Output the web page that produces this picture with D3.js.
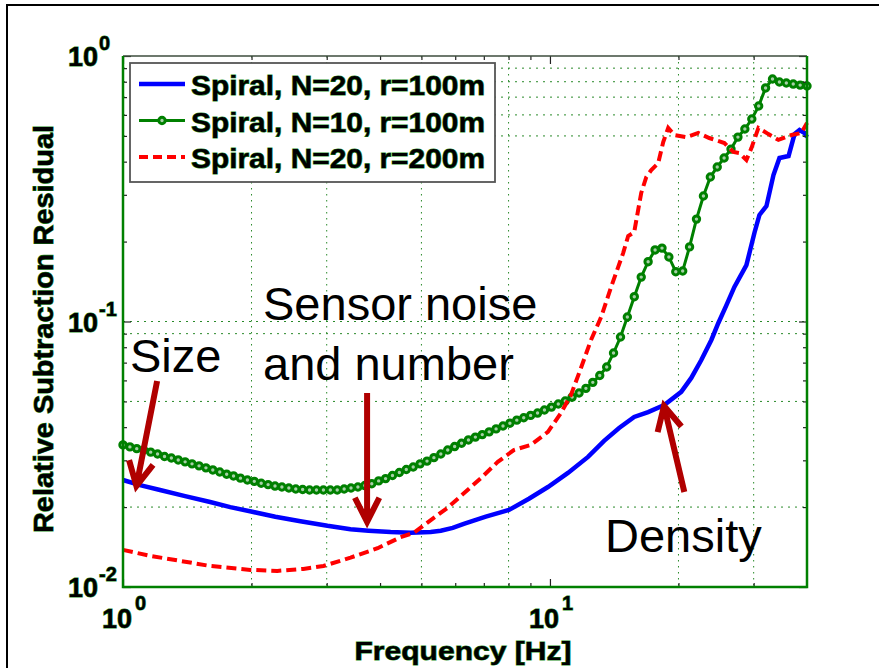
<!DOCTYPE html>
<html>
<head>
<meta charset="utf-8">
<script src="https://cdn.jsdelivr.net/npm/d3@7"></script>
<style>
  body { margin: 0; background: #fff; }
  svg { display: block; font-family: "Liberation Sans", Arial, sans-serif; }
  .fringe { paint-order: stroke; stroke: #1f8f1f; stroke-width: 1px; fill: #000; font-weight: bold; }
</style>
</head>
<body>
<svg width="879" height="668"></svg>
<script>
// Spiral, N=20, r=100m
var blueFreq = [1.000, 1.096, 1.221, 1.398, 1.600, 1.783, 2.008, 2.274, 2.603, 3.012, 3.411, 3.759,
  4.235, 4.718, 5.256, 5.549, 5.920, 6.283, 7.076, 8.014, 8.928, 9.892, 11.02, 12.28, 13.39, 14.52,
  15.75, 16.98, 18.52, 20.30, 21.43, 22.62, 23.88, 24.80, 25.89, 27.04, 28.85, 30.13, 30.95, 32.14,
  33.38, 34.48, 36.21, 37.40, 38.42, 39.47, 40.00];
var blueVal = [0.0253, 0.0242, 0.0232, 0.0220, 0.0209, 0.0200, 0.0192, 0.0184, 0.0177, 0.0170, 0.0165, 0.0163,
  0.0161, 0.0160, 0.0161, 0.0163, 0.0167, 0.0173, 0.0184, 0.0195, 0.0215, 0.0238, 0.0269, 0.0309, 0.0355, 0.0397,
  0.0437, 0.0456, 0.0485, 0.0543, 0.0613, 0.0716, 0.0852, 0.0987, 0.115, 0.135, 0.163, 0.216, 0.252, 0.272,
  0.356, 0.413, 0.420, 0.508, 0.526, 0.513, 0.495];

// Spiral, N=10, r=100m (one marker per sample)
var greenFreq = [1.000, 1.038, 1.077, 1.118, 1.161, 1.205, 1.251, 1.298, 1.347, 1.398,
  1.451, 1.507, 1.564, 1.623, 1.685, 1.749, 1.815, 1.884, 1.956, 2.030,
  2.107, 2.187, 2.270, 2.356, 2.446, 2.539, 2.635, 2.735, 2.839, 2.947,
  3.059, 3.175, 3.296, 3.420, 3.550, 3.685, 3.825, 3.970, 4.121, 4.277,
  4.439, 4.608, 4.783, 4.964, 5.153, 5.348, 5.551, 5.762, 5.981, 6.208,
  6.443, 6.688, 6.942, 7.205, 7.479, 7.763, 8.057, 8.363, 8.681, 9.010,
  9.353, 9.708, 10.08, 10.46, 10.86, 11.27, 11.70, 12.14, 12.60, 13.08,
  13.58, 14.09, 14.63, 15.18, 15.76, 16.36, 16.98, 17.63, 18.30, 18.99,
  19.71, 20.46, 21.23, 22.04, 22.88, 23.75, 24.65, 25.58, 26.55, 27.56,
  28.61, 29.70, 30.82, 31.99, 33.21, 34.47, 35.78, 37.14, 38.55, 40.00];
var greenVal = [0.0343, 0.0337, 0.0332, 0.0328, 0.0322, 0.0317, 0.0310, 0.0306, 0.0301, 0.0296,
  0.0291, 0.0286, 0.0281, 0.0276, 0.0271, 0.0266, 0.0262, 0.0257, 0.0253, 0.0250,
  0.0246, 0.0243, 0.0240, 0.0238, 0.0236, 0.0234, 0.0233, 0.0232, 0.0232, 0.0232,
  0.0232, 0.0232, 0.0234, 0.0236, 0.0238, 0.0241, 0.0245, 0.0251, 0.0256, 0.0263,
  0.0270, 0.0277, 0.0283, 0.0291, 0.0298, 0.0307, 0.0317, 0.0328, 0.0338, 0.0348,
  0.0358, 0.0367, 0.0375, 0.0384, 0.0394, 0.0404, 0.0414, 0.0425, 0.0434, 0.0443,
  0.0452, 0.0464, 0.0476, 0.0489, 0.0502, 0.0519, 0.0538, 0.0560, 0.0590, 0.0626,
  0.0674, 0.0761, 0.0874, 0.104, 0.124, 0.147, 0.168, 0.186, 0.189, 0.175,
  0.154, 0.155, 0.191, 0.243, 0.297, 0.350, 0.382, 0.413, 0.446, 0.495,
  0.531, 0.579, 0.648, 0.758, 0.819, 0.798, 0.791, 0.784, 0.777, 0.771];

// Spiral, N=20, r=200m
var redFreq = [1.000, 1.157, 1.339, 1.600, 1.987, 2.298, 2.646, 2.948, 3.411, 3.948, 4.469, 4.795,
  5.762, 6.887, 7.548, 8.231, 9.024, 9.892, 10.61, 11.20, 11.82, 12.48, 13.18, 13.91, 14.44, 14.84,
  15.25, 15.75, 16.36, 16.81, 17.27, 17.93, 18.42, 18.92, 19.55, 20.86, 22.26, 23.61, 25.62, 26.89,
  27.78, 28.85, 29.64, 30.78, 32.49, 34.29, 36.79, 38.82, 40.00];
var redVal = [0.0138, 0.0131, 0.0126, 0.0120, 0.0116, 0.0115, 0.0117, 0.0120, 0.0129, 0.0140, 0.0154, 0.0160,
  0.0199, 0.0257, 0.0296, 0.0328, 0.0343, 0.0384, 0.0452, 0.0529, 0.0668, 0.0852, 0.104, 0.135, 0.160, 0.181,
  0.210, 0.217, 0.305, 0.350, 0.372, 0.395, 0.474, 0.536, 0.504, 0.495, 0.513, 0.491, 0.470, 0.435,
  0.431, 0.406, 0.450, 0.536, 0.508, 0.483, 0.504, 0.513, 0.560];

var seriesNames = ["Spiral, N=20, r=100m", "Spiral, N=10, r=100m", "Spiral, N=20, r=200m"];

// ticks and grid
var xMajor = [1, 10], xMinor = [2, 3, 4, 5, 6, 7, 8, 9, 20, 30];
var yMajor = [0.01, 0.1, 1], yMinor = [0.02, 0.03, 0.04, 0.05, 0.06, 0.07, 0.08, 0.09, 0.2, 0.3, 0.4, 0.5, 0.6, 0.7, 0.8, 0.9];
var xGrid = [2, 3, 5, 8, 20, 30];
var yGrid = [0.02, 0.05, 0.09, 0.1, 0.5, 0.6, 0.7, 0.8, 0.9];

var svg = d3.select("svg"),
	plotL = 123, plotR = 807, plotT = 56, plotB = 587;

var x = d3.scaleLog().domain([1, 40]).range([plotL, plotR]),
	y = d3.scaleLog().domain([0.01, 1]).range([plotB, plotT]);

// figure frame
svg.append("path")
   .attr("d", "M7,668V5H879")
   .attr("fill", "none")
   .attr("stroke", "#000")
   .attr("stroke-width", 2);

// dotted grid
var grid = svg.append("g").attr("stroke", "#2a8a2a").attr("stroke-width", 1);
grid.selectAll(".gx").data(xGrid).enter().append("line")
	.attr("x1", function(d) { return x(d); }).attr("x2", function(d) { return x(d); })
	.attr("y1", plotT).attr("y2", plotB)
	.attr("stroke-dasharray", "1.5,4.5");
grid.selectAll(".gy").data(yGrid).enter().append("line")
	.attr("x1", plotL).attr("x2", plotR)
	.attr("y1", function(d) { return y(d); }).attr("y2", function(d) { return y(d); })
	.attr("stroke-dasharray", "2,5");

// curves
var line = d3.line()
	.x(function(d) { return x(d[0]); })
	.y(function(d) { return y(d[1]); });

var blue = d3.zip(blueFreq, blueVal),
	green = d3.zip(greenFreq, greenVal),
	red = d3.zip(redFreq, redVal);

svg.append("path").datum(blue)
   .attr("d", line).attr("fill", "none")
   .attr("stroke", "#0000ff").attr("stroke-width", 4.5);

svg.append("path").datum(green)
   .attr("d", line).attr("fill", "none")
   .attr("stroke", "#008000").attr("stroke-width", 3);

svg.selectAll(".mk").data(green).enter().append("circle")
   .attr("cx", function(d) { return x(d[0]); })
   .attr("cy", function(d) { return y(d[1]); })
   .attr("r", 3.2)
   .attr("fill", "#a8d0a8")
   .attr("stroke", "#008000")
   .attr("stroke-width", 3);

svg.append("path").datum(red)
   .attr("d", line).attr("fill", "none")
   .attr("stroke", "#ff0000").attr("stroke-width", 4)
   .attr("stroke-dasharray", "10,5");

// axes with inward ticks on all four sides
function drawAxis(axisFn, scale, values, size, tx, ty) {
	var g = svg.append("g")
		.attr("transform", "translate(" + tx + "," + ty + ")")
		.call(axisFn(scale).tickValues(values).tickSizeInner(size).tickSizeOuter(0).tickFormat(""));
	g.select(".domain").remove();
	g.selectAll(".tick line").attr("stroke", "#222").attr("stroke-width", 1.2);
	return g;
}
drawAxis(d3.axisBottom, x, xMinor, -4, 0, plotB);
drawAxis(d3.axisBottom, x, xMajor, -8, 0, plotB);
drawAxis(d3.axisTop, x, xMinor, -4, 0, plotT);
drawAxis(d3.axisTop, x, xMajor, -8, 0, plotT);
drawAxis(d3.axisLeft, y, yMinor, -4, plotL, 0);
drawAxis(d3.axisLeft, y, yMajor, -8, plotL, 0);
drawAxis(d3.axisRight, y, yMinor, -4, plotR, 0);
drawAxis(d3.axisRight, y, yMajor, -8, plotR, 0);

// box edges
svg.append("line").attr("x1", plotL).attr("x2", plotR).attr("y1", plotT).attr("y2", plotT)
   .attr("stroke", "#3c4c3c").attr("stroke-width", 1.5);
svg.append("path")
   .attr("d", "M" + plotL + "," + plotT + "V" + plotB + "H" + plotR + "V" + plotT)
   .attr("fill", "none").attr("stroke", "#008000").attr("stroke-width", 2.5);

// tick labels as 10 with superscript exponent
svg.selectAll(".xl").data(xMajor).enter().append("text")
   .attr("class", "fringe")
   .each(function(d) {
	   var t = d3.select(this), e = Math.round(Math.log10(d));
	   t.append("tspan").attr("x", x(d) - 6).attr("y", 628).attr("text-anchor", "middle")
		.style("font-size", "27px").text("10");
	   t.append("tspan").attr("x", x(d) + 12).attr("y", 610)
		.style("font-size", "20px").text(e);
   });

svg.selectAll(".yl").data(yMajor).enter().append("text")
   .attr("class", "fringe")
   .each(function(d) {
	   var t = d3.select(this), e = Math.round(Math.log10(d));
	   t.append("tspan").attr("x", 98).attr("y", y(d) + 10).attr("text-anchor", "end")
		.style("font-size", "27px").text("10");
	   t.append("tspan").attr("x", 99).attr("y", y(d) - 6)
		.style("font-size", "20px").text(e);
   });

// axis titles
svg.append("text")
   .attr("class", "fringe")
   .attr("x", 463).attr("y", 660)
   .attr("text-anchor", "middle")
   .attr("textLength", 217).attr("lengthAdjust", "spacingAndGlyphs")
   .style("font-size", "26px")
   .text("Frequency [Hz]");

svg.append("text")
   .attr("class", "fringe")
   .attr("transform", "translate(53,329) rotate(-90)")
   .attr("text-anchor", "middle")
   .attr("textLength", 408).attr("lengthAdjust", "spacingAndGlyphs")
   .style("font-size", "28px")
   .text("Relative Subtraction Residual");

// legend
var legend = svg.append("g");
legend.append("rect")
	.attr("x", 130).attr("y", 63).attr("width", 365).attr("height", 119)
	.attr("fill", "#fff").attr("stroke", "#555").attr("stroke-width", 1.8);

var rows = [
	{ color: "#0000ff", width: 4.5, dash: null, marker: false },
	{ color: "#008000", width: 3, dash: null, marker: true },
	{ color: "#ff0000", width: 4, dash: "9,5", marker: false }
];
rows.forEach(function(r, i) {
	var cy = 84 + i * 36.5;
	legend.append("line")
		.attr("x1", 139).attr("x2", 185).attr("y1", cy).attr("y2", cy)
		.attr("stroke", r.color).attr("stroke-width", r.width)
		.attr("stroke-dasharray", r.dash);
	if (r.marker) {
		legend.append("circle").attr("cx", 162).attr("cy", cy).attr("r", 3.2)
			.attr("fill", "#a8d0a8").attr("stroke", r.color).attr("stroke-width", 3);
	}
	legend.append("text")
		.attr("class", "fringe")
		.attr("x", 191).attr("y", cy + 11)
		.attr("textLength", 294).attr("lengthAdjust", "spacingAndGlyphs")
		.style("font-size", "28px")
		.text(seriesNames[i]);
});

// annotation arrows, anchored in data coordinates
function arrow(f0, v0, f1, v1) {
	var x0 = x(f0), y0 = y(v0), x1 = x(f1), y1 = y(v1),
		a = Math.atan2(y0 - y1, x0 - x1), L = 27, h = 0.47;
	var p = "M" + x0 + "," + y0 + "L" + x1 + "," + y1 +
		"M" + (x1 + L * Math.cos(a + h)) + "," + (y1 + L * Math.sin(a + h)) +
		"L" + x1 + "," + y1 +
		"L" + (x1 + L * Math.cos(a - h)) + "," + (y1 + L * Math.sin(a - h));
	svg.append("path").attr("d", p)
	   .attr("fill", "none").attr("stroke", "#b00000")
	   .attr("stroke-width", 6).attr("stroke-linejoin", "miter");
}
arrow(1.202, 0.0597, 1.075, 0.0240);
arrow(3.73, 0.0538, 3.73, 0.0176);
arrow(20.64, 0.0228, 18.5, 0.0481);

var notes = [
	{ x: 130, y: 372, t: "Size" },
	{ x: 263, y: 320, t: "Sensor noise" },
	{ x: 263, y: 380, t: "and number" },
	{ x: 605, y: 552, t: "Density" }
];
svg.selectAll(".note").data(notes).enter().append("text")
   .attr("x", function(d) { return d.x; })
   .attr("y", function(d) { return d.y; })
   .style("font-size", "47px")
   .attr("fill", "#000")
   .text(function(d) { return d.t; });
</script>
</body>
</html>
